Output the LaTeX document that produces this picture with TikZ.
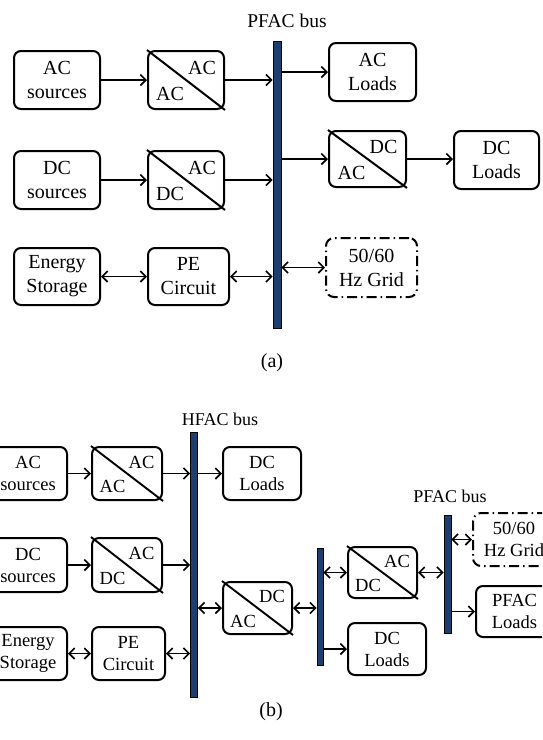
\documentclass[tikz,border=0pt]{standalone}
\usepackage{fontspec}
\setmainfont{Liberation Serif}
\usetikzlibrary{arrows.meta}
\definecolor{busblue}{RGB}{30,62,112}
\begin{document}
\begin{tikzpicture}[x=1pt,y=-1pt,
  fa/.style={font=\fontsize{20}{24}\selectfont},
  fb/.style={font=\fontsize{18.5}{22}\selectfont},
  flab/.style={font=\fontsize{19.5}{22}\selectfont},
  flabb/.style={font=\fontsize{18}{22}\selectfont},
  box/.style={draw, line width=2pt, rounded corners=7pt, align=center, inner sep=0pt},
  conv/.style={draw, line width=2pt, rounded corners=7pt, inner sep=0pt},
  gridbox/.style={draw, line width=2pt, rounded corners=8pt, align=center, inner sep=0pt, dash pattern=on 10pt off 4pt on 1.5pt off 4pt},
  bus/.style={draw=black, line width=0.8pt, fill=busblue, inner sep=0pt},
  arr/.style={line width=1.6pt, -{Straight Barb[length=5.5pt,width=11pt,line width=1.6pt]}},
  darr/.style={line width=1.6pt, {Straight Barb[length=5.5pt,width=11pt,line width=1.6pt]}-{Straight Barb[length=5.5pt,width=11pt,line width=1.6pt]}},
]
\useasboundingbox (0,0) rectangle (542,740);
\clip (0,0) rectangle (542,740);

% ---------------- (a) ----------------
\node[box,fa,minimum width=86pt,minimum height=58pt] (acs) at (57,80) {AC\\sources};
\node[conv,minimum width=76pt,minimum height=58pt] (cv1) at (186,80) {};
\draw[line width=2pt] (cv1.north west) -- (cv1.south east);
\node[fa] (cv1t) at ([shift={(16,-12)}]cv1.center) {AC};
\node[fa] (cv1b) at ([shift={(-16,14)}]cv1.center) {AC};

\node[box,fa,minimum width=86pt,minimum height=58pt] (dcs) at (57,180) {DC\\sources};
\node[conv,minimum width=76pt,minimum height=58pt] (cv2) at (186,180) {};
\draw[line width=2pt] (cv2.north west) -- (cv2.south east);
\node[fa] (cv2t) at ([shift={(16,-12)}]cv2.center) {AC};
\node[fa] (cv2b) at ([shift={(-16,14)}]cv2.center) {DC};

\node[box,fa,minimum width=86pt,minimum height=57pt] (es) at (57,276.5) {Energy\\Storage};
\node[box,fa,minimum width=81pt,minimum height=57pt] (pe) at (188.5,276.5) {PE\\Circuit};

\node[bus,minimum width=8pt,minimum height=287pt] (busa) at (277,184.5) {};
\node[flab] (labA) at (287,21) {PFAC bus};

\node[box,fa,minimum width=87pt,minimum height=58pt] (acl) at (372.5,72) {AC\\Loads};
\node[conv,minimum width=77pt,minimum height=56pt] (cv3) at (367.5,159) {};
\draw[line width=2pt] (cv3.north west) -- (cv3.south east);
\node[fa] (cv3t) at ([shift={(16,-12)}]cv3.center) {DC};
\node[fa] (cv3b) at ([shift={(-16,14)}]cv3.center) {AC};
\node[box,fa,minimum width=85pt,minimum height=58pt] (dcl) at (496.5,160) {DC\\Loads};
\node[gridbox,fa,minimum width=91pt,minimum height=59pt] (grd) at (371.5,267.5) {50/60\\Hz Grid};

\node[fa] (capA) at (272,363) {(a)};

\draw[arr] (acs) -- (cv1);
\draw[arr] (cv1.east) -- (cv1.east -| busa.west);
\draw[arr] (dcs) -- (cv2);
\draw[arr] (cv2.east) -- (cv2.east -| busa.west);
\draw[darr] (es) -- (pe);
\draw[darr] (pe.east) -- (pe.east -| busa.west);
\draw[arr] (acl.west -| busa.east) -- (acl.west);
\draw[arr] (cv3.west -| busa.east) -- (cv3.west);
\draw[arr] (cv3.east) -- (cv3.east -| dcl.west);
\draw[darr] (grd.west -| busa.east) -- (grd.west);

% ---------------- (b) ----------------
\node[box,fb,minimum width=78pt,minimum height=53pt] (acs2) at (28,473.5) {AC\\sources};
\node[conv,minimum width=70pt,minimum height=53pt] (cv4) at (127,473.5) {};
\draw[line width=1.9pt] (cv4.north west) -- (cv4.south east);
\node[fb] (cv4t) at ([shift={(14.5,-11.5)}]cv4.center) {AC};
\node[fb] (cv4b) at ([shift={(-14.5,13)}]cv4.center) {AC};

\node[box,fb,minimum width=78pt,minimum height=54pt] (dcs2) at (28,565) {DC\\sources};
\node[conv,minimum width=70pt,minimum height=54pt] (cv5) at (127,565) {};
\draw[line width=1.9pt] (cv5.north west) -- (cv5.south east);
\node[fb] (cv5t) at ([shift={(14.5,-11.5)}]cv5.center) {AC};
\node[fb] (cv5b) at ([shift={(-14.5,13)}]cv5.center) {DC};

\node[box,fb,minimum width=78pt,minimum height=53pt] (es2) at (28,653.5) {Energy\\Storage};
\node[box,fb,minimum width=73pt,minimum height=53pt] (pe2) at (128.5,653.5) {PE\\Circuit};

\node[bus,minimum width=7pt,minimum height=265pt] (busb) at (194,564.5) {};
\node[flabb] (labB) at (220,419) {HFAC bus};

\node[box,fb,minimum width=78pt,minimum height=53pt] (dcl2) at (262,473.5) {DC\\Loads};
\node[conv,minimum width=69pt,minimum height=52pt] (cv6) at (257.5,608) {};
\draw[line width=1.9pt] (cv6.north west) -- (cv6.south east);
\node[fb] (cv6t) at ([shift={(14.5,-12)}]cv6.center) {DC};
\node[fb] (cv6b) at ([shift={(-14.5,13)}]cv6.center) {AC};

\node[bus,minimum width=6pt,minimum height=117pt] (busc) at (320,606.5) {};

\node[conv,minimum width=69pt,minimum height=51pt] (cv7) at (382.5,572.5) {};
\draw[line width=1.9pt] (cv7.north west) -- (cv7.south east);
\node[fb] (cv7t) at ([shift={(14.5,-11.5)}]cv7.center) {AC};
\node[fb] (cv7b) at ([shift={(-14.5,13)}]cv7.center) {DC};
\node[box,fb,minimum width=78pt,minimum height=52pt] (dcl3) at (387,649) {DC\\Loads};

\node[bus,minimum width=7pt,minimum height=118pt] (busd) at (447.5,574) {};
\node[flabb] (labC) at (450,496) {PFAC bus};

\node[gridbox,fb,minimum width=82pt,minimum height=53pt] (grd2) at (514,539.5) {50/60\\Hz Grid};
\node[box,fb,minimum width=77pt,minimum height=51pt] (pfl) at (514.5,611.5) {PFAC\\Loads};

\node[fa] (capB) at (271,712) {(b)};

\draw[arr] (acs2) -- (cv4);
\draw[arr] (cv4.east) -- (cv4.east -| busb.west);
\draw[arr] (dcs2) -- (cv5);
\draw[arr] (cv5.east) -- (cv5.east -| busb.west);
\draw[darr] (es2) -- (pe2);
\draw[darr] (pe2.east) -- (pe2.east -| busb.west);
\draw[arr] (dcl2.west -| busb.east) -- (dcl2.west);
\draw[darr] (cv6.west -| busb.east) -- (cv6.west);
\draw[darr] (cv6.east) -- (cv6.east -| busc.west);
\draw[darr] (cv7.west -| busc.east) -- (cv7.west);
\draw[arr] (dcl3.west -| busc.east) -- (dcl3.west);
\draw[darr] (cv7.east) -- (cv7.east -| busd.west);
\draw[darr] (grd2.west -| busd.east) -- (grd2.west);
\draw[arr] (pfl.west -| busd.east) -- (pfl.west);
\end{tikzpicture}
\end{document}
